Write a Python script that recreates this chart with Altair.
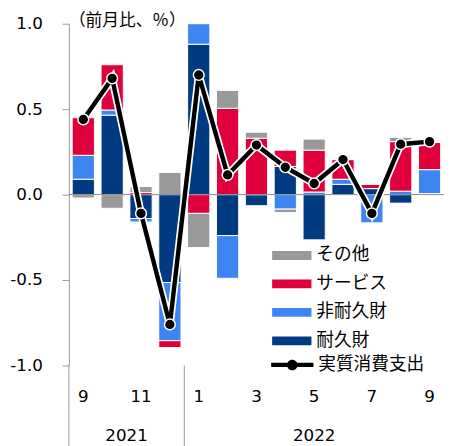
import altair as alt
import pandas as pd

months = ["2021/9", "2021/10", "2021/11", "2021/12", "2022/1", "2022/2", "2022/3",
          "2022/4", "2022/5", "2022/6", "2022/7", "2022/8", "2022/9"]
durable = [0.09, 0.465, -0.14, -0.515, 0.88, -0.24, -0.065, 0.165, -0.265, 0.06, 0.035, -0.05, 0.006]
nondurable = [0.14, 0.03, -0.02, -0.34, 0.12, -0.25, 0.0, -0.085, 0.015, 0.03, -0.165, 0.02, 0.14]
services = [0.22, 0.265, 0.012, -0.04, -0.11, 0.505, 0.33, 0.095, 0.245, 0.115, 0.025, 0.29, 0.16]
other = [-0.02, -0.08, 0.035, 0.13, -0.2, 0.105, 0.035, -0.02, 0.065, 0.0, 0.0, 0.025, 0.0]
total = [0.44, 0.68, -0.11, -0.76, 0.70, 0.115, 0.29, 0.16, 0.065, 0.205, -0.11, 0.295, 0.31]

stack_names = ["耐久財", "非耐久財", "サービス", "その他"]
legend_names = ["その他", "サービス", "非耐久財", "耐久財"]
legend_colors = ["#999999", "#E0003C", "#3D86F2", "#003A80"]
line_name = "実質消費支出"
unit_title = "（前月比、％）"
year_labels = ["2021", "2022"]
y_ticks = [-1.0, -0.5, 0.0, 0.5, 1.0]

W, H = 382, 348
PI = 0.23
HALF_GAP = (PI / 2) * W / len(months)

rows = []
for k, (name, vals) in enumerate(zip(stack_names, [durable, nondurable, services, other])):
    for m, v in zip(months, vals):
        rows.append({"month": m, "series": name, "value": v, "order": k})
bars_df = pd.DataFrame(rows)
line_df = pd.DataFrame({"month": months, "value": total, "name": [line_name] * len(months)})

NUM_FONT = "DejaVu Sans"
JP_FONT = "Noto Sans CJK JP"
LEG_FS = 18

xscale = alt.Scale(paddingInner=PI, paddingOuter=PI / 2)

x_axis = alt.Axis(
    title=None, domain=False, ticks=False, labelAngle=0, labelPadding=24,
    labelFontSize=17, labelFont=NUM_FONT, labelColor="black",
    labelExpr="toNumber(split(datum.value,'/')[1]) % 2 == 1 ? split(datum.value,'/')[1] : ''",
)
y_axis = alt.Axis(
    title=None, values=y_ticks, grid=False, domainColor="#999999", tickColor="#999999",
    tickSize=7, labelPadding=20, labelFontSize=17, labelFont=NUM_FONT, labelColor="black",
    labelExpr="datum.value < 0 ? '-' + format(-datum.value, '.1f') : format(datum.value, '.1f')",
)
yscale = alt.Scale(domain=[-1, 1], nice=False)

bars = alt.Chart(bars_df).mark_bar(stroke="white", strokeWidth=1).encode(
    x=alt.X("month:N", sort=months, scale=xscale, axis=x_axis),
    y=alt.Y("value:Q", stack="zero", scale=yscale, axis=y_axis),
    color=alt.Color(
        "series:N",
        scale=alt.Scale(domain=legend_names, range=legend_colors),
        legend=alt.Legend(
            orient="none", legendX=207, legendY=216, title=None, padding=0,
            symbolType="M-1,-0.225H1V0.225H-1Z", symbolSize=1600, symbolStrokeWidth=0,
            labelFontSize=LEG_FS, labelFont=JP_FONT, labelColor="black", labelOffset=5,
            rowPadding=0,
        ),
    ),
    order=alt.Order("order:Q"),
)

zero = alt.Chart(pd.DataFrame({"v": [0.0]})).mark_rule(color="#888888", strokeWidth=1).encode(
    y=alt.Y("v:Q", scale=yscale)
)

halo = alt.Chart(line_df).mark_line(color="white", strokeWidth=8).encode(
    x=alt.X("month:N", sort=months, scale=xscale),
    y=alt.Y("value:Q", scale=yscale),
)
line = alt.Chart(line_df).mark_line(strokeWidth=4.5).encode(
    x=alt.X("month:N", sort=months, scale=xscale),
    y=alt.Y("value:Q", scale=yscale),
    stroke=alt.Stroke(
        "name:N", scale=alt.Scale(range=["black"]),
        legend=alt.Legend(
            orient="none", legendX=206, legendY=326, title=None, padding=0,
            symbolType="M-1,-0.1H1V0.1H-1Z M-0.25,0A0.25,0.25 0 1,1 0.25,0A0.25,0.25 0 1,1 -0.25,0Z",
            symbolSize=1849, symbolFillColor="black", symbolStrokeWidth=0,
            labelFontSize=LEG_FS, labelFont=JP_FONT, labelColor="black", labelOffset=5,
        ),
    ),
)
points = alt.Chart(line_df).mark_circle(size=120, fill="black", stroke="white", strokeWidth=1.5, opacity=1).encode(
    x=alt.X("month:N", sort=months, scale=xscale),
    y=alt.Y("value:Q", scale=yscale),
)

title = alt.Chart(pd.DataFrame({"t": [unit_title]})).mark_text(
    align="left", baseline="middle", fontSize=17, font=JP_FONT, color="black"
).encode(x=alt.value(0), y=alt.value(-3), text="t:N")

sep = alt.Chart(pd.DataFrame({"month": ["2021/12"]})).mark_rule(
    color="#999999", strokeWidth=1, xOffset=HALF_GAP
).encode(
    x=alt.X("month:N", sort=months, scale=xscale, bandPosition=1),
    y=alt.value(H), y2=alt.value(H + 90),
)
left_sep = alt.Chart(pd.DataFrame({"month": ["2021/9"]})).mark_rule(color="#999999", strokeWidth=1).encode(
    x=alt.value(0), y=alt.value(H), y2=alt.value(H + 90),
)
y2021 = alt.Chart(pd.DataFrame({"month": ["2021/10"], "t": [year_labels[0]]})).mark_text(
    fontSize=17, font=NUM_FONT, color="black", baseline="middle", xOffset=HALF_GAP
).encode(
    x=alt.X("month:N", sort=months, scale=xscale, bandPosition=1),
    y=alt.value(H + 72), text="t:N",
)
y2022 = alt.Chart(pd.DataFrame({"month": ["2022/5"], "t": [year_labels[1]]})).mark_text(
    fontSize=17, font=NUM_FONT, color="black", baseline="middle"
).encode(
    x=alt.X("month:N", sort=months, scale=xscale, bandPosition=0.5),
    y=alt.value(H + 72), text="t:N",
)

chart = alt.layer(bars, zero, halo, line, points, title, sep, left_sep, y2021, y2022).resolve_scale(
    color="independent", stroke="independent"
).properties(
    width=W, height=H,
    autosize=alt.AutoSizeParams(type="none"),
    padding={"left": 62, "top": 12, "right": 0, "bottom": 78},
    background="white",
).configure_view(stroke=None)

chart.save("out.html", embed_options={"renderer": "svg", "actions": False})
